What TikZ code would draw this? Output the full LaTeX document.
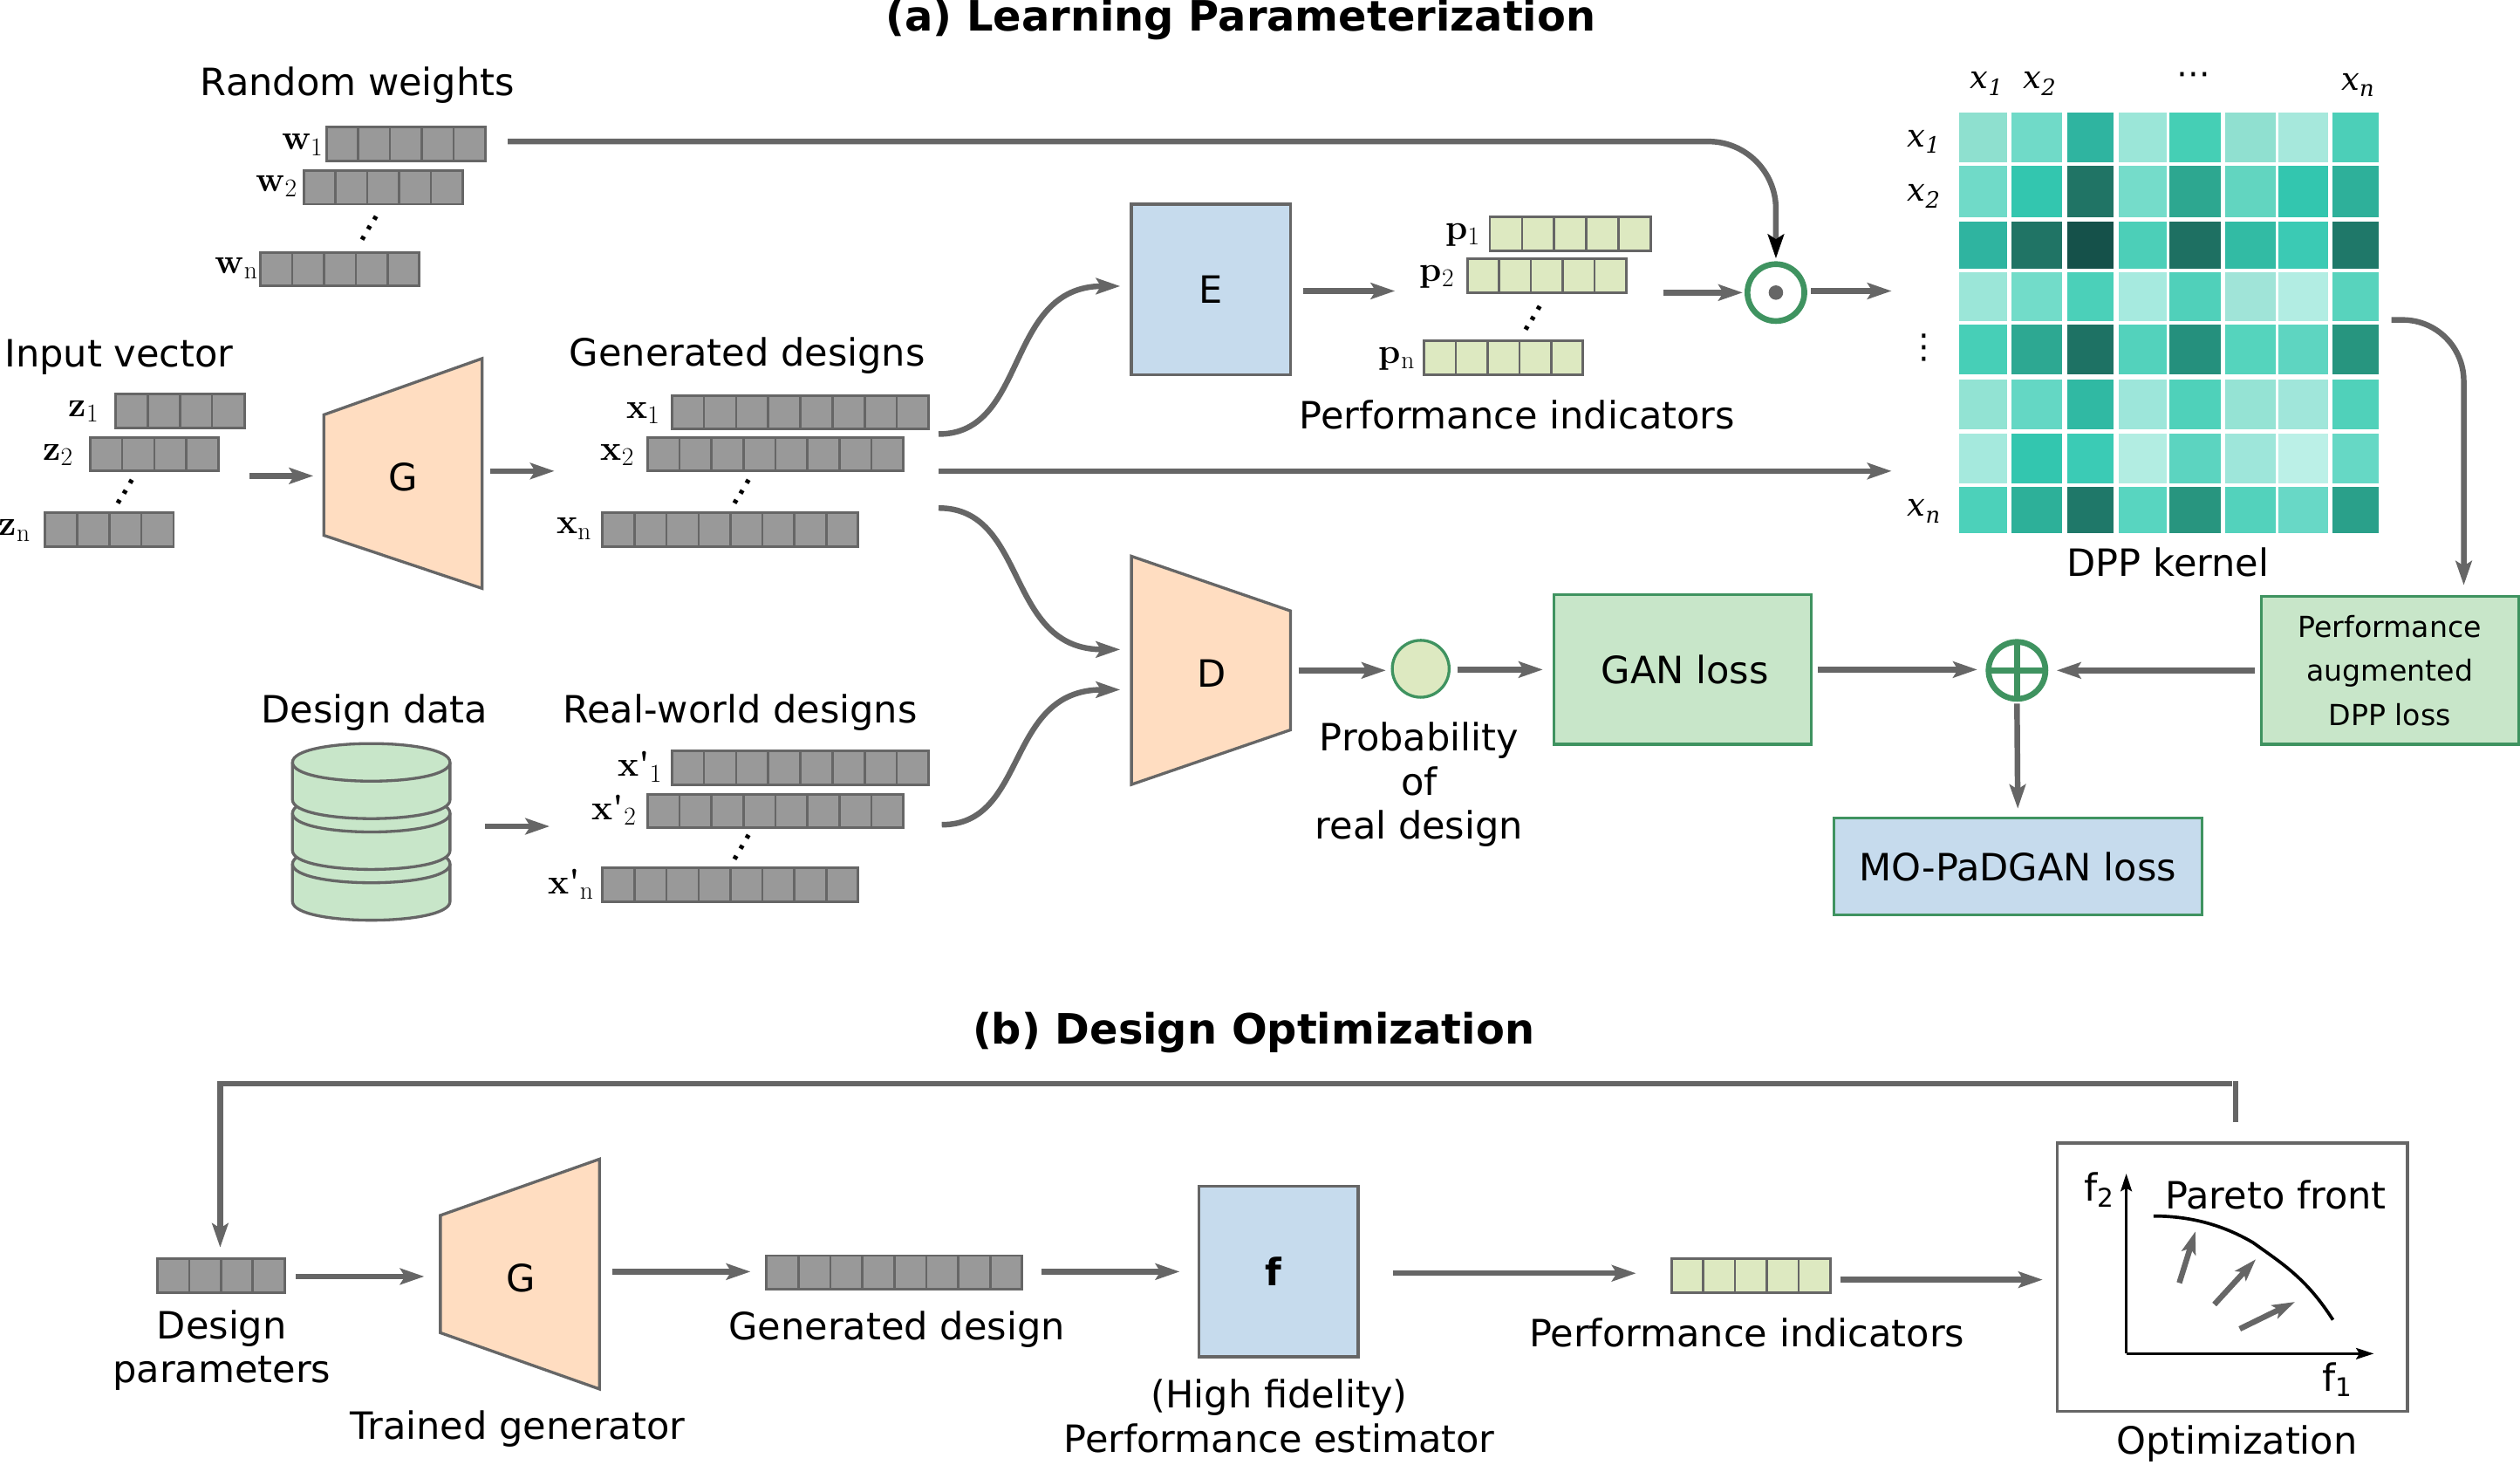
\documentclass[tikz,border=0pt]{standalone}
\usepackage{fontspec}
\usetikzlibrary{arrows.meta,calc}
\newfontfamily\djs{DejaVu Sans}
\newfontfamily\djser{DejaVu Serif}
\newfontfamily\lmr{Latin Modern Roman}
\definecolor{lnk}{HTML}{666666}
\definecolor{grn}{HTML}{3F9360}
\definecolor{peach}{HTML}{FFDDC1}
\definecolor{blu}{HTML}{C6DBED}
\definecolor{pgrn}{HTML}{DDE9C1}
\definecolor{lgrn}{HTML}{C8E6C9}
\definecolor{vgray}{HTML}{999999}
\newcommand{\fz}[1]{\fontsize{#1}{#1}\selectfont}
\newcommand{\blab}[2]{{\lmr\bfseries\fz{22}#1}\raisebox{-3.5pt}{\lmr\fz{16}#2}}
\newcommand{\plab}[2]{{\lmr\bfseries\fz{22}#1'}\raisebox{-3.5pt}{\lmr\fz{16}#2}}
\newcommand{\klab}[2]{{\djser\itshape\fz{20}#1}\raisebox{-4pt}{\djser\itshape\fz{14}#2}}
\newcommand{\flab}[1]{{\djs\fz{23.4}f}\raisebox{-3.5pt}{\djs\fz{16}#1}}
% name, x, y, width, cells, fill
\newcommand{\vecbar}[6]{%
  \node[vbox,fill=#6,minimum width=#4pt,anchor=north west] (#1) at (#2,#3) {};
  \pgfmathtruncatemacro{\last}{#5-1}
  \foreach \i in {1,...,\last} {\draw[lnk,line width=1.4pt] ({#2+\i*#4/#5},#3) -- ++(0,21);}
}
\tikzset{
  arr/.style={draw=lnk,line width=3.5pt,-{Stealth[length=15pt,width=10pt,inset=3pt]}},
  vbox/.style={draw=lnk,line width=1.6pt,minimum height=21pt,inner sep=0pt,outer sep=0pt},
  txt/.style={font=\djs\fontsize{23.4}{27.5}\selectfont,align=center,inner sep=0pt},
  ttl/.style={font=\djs\bfseries\fontsize{26}{30}\selectfont,inner sep=0pt},
  lab/.style={inner sep=0pt},
  dts/.style={font=\djs\fontsize{21}{21}\selectfont,inner sep=0pt},
  sdts/.style={font=\djs\fontsize{23.4}{23.4}\selectfont,inner sep=0pt,rotate=60},
  pshape/.style={draw=lnk,line width=1.8pt,fill=peach},
  bbx/.style={inner sep=0pt,outer sep=0pt},
  fbox/.style={line width=1.8pt,inner sep=0pt,outer sep=0pt,align=center,font=\djs\fontsize{23.4}{27}\selectfont},
  cyl/.style={draw=lnk,line width=1.8pt,fill=lgrn},
  opc/.style={circle,draw=grn,line width=3.6pt,minimum size=35.4pt,inner sep=0pt,outer sep=0pt},
  axs/.style={draw=black,line width=1.6pt,-{Stealth[length=11pt,width=7pt,inset=2pt]}},
}
\begin{document}
\begin{tikzpicture}[x=1pt,y=-1pt]
\useasboundingbox (0,0) rectangle (1568,910.73);
% titles
\node[ttl] (ta) at (772,12) {(a) Learning Parameterization};
\node[ttl] (tb) at (780,642.5) {(b) Design Optimization};
% random weights
\node[txt] (lrw) at (222.5,53) {Random weights};
\vecbar{w1}{203}{79}{99}{5}{vgray}
\vecbar{w2}{189}{106}{99}{5}{vgray}
\vecbar{wn}{162}{157}{99}{5}{vgray}
\node[lab] (lw1) at (188,90) {\blab{w}{1}};
\node[lab] (lw2) at (172,116) {\blab{w}{2}};
\node[lab] (lwn) at (147,167) {\blab{w}{n}};
\node[sdts] (dw) at (230,142) {...};
% input vector
\node[txt] (liv) at (74,222) {Input vector};
\vecbar{z1}{72}{245}{80}{4}{vgray}
\vecbar{z2}{56}{272}{80}{4}{vgray}
\vecbar{zn}{28}{319}{80}{4}{vgray}
\node[lab] (lz1) at (52,256) {\blab{z}{1}};
\node[lab] (lz2) at (36,283) {\blab{z}{2}};
\node[lab] (lzn) at (9,330) {\blab{z}{n}};
\node[sdts] (dz) at (78,306) {...};
% G
\path[pshape] (201.5,258) -- (300,223) -- (300,366) -- (201.5,333) -- cycle;
\node[bbx,minimum width=98.5pt,minimum height=143pt] (G) at (250.7,294.5) {};
\node[txt] (lG) at (251,297) {G};
% generated
\node[txt] (lgd) at (465,221) {Generated designs};
\vecbar{x1}{418}{246}{160}{8}{vgray}
\vecbar{x2}{403}{272}{159}{8}{vgray}
\vecbar{xn}{375}{319}{159}{8}{vgray}
\node[lab] (lx1) at (400,257) {\blab{x}{1}};
\node[lab] (lx2) at (384,283) {\blab{x}{2}};
\node[lab] (lxn) at (357,329) {\blab{x}{n}};
\node[sdts] (dx) at (461.7,306) {...};
% E
\node[fbox,draw=lnk,fill=blu,minimum width=99pt,minimum height=106pt,anchor=north west] (E) at (704,127) {E};
% p
\vecbar{p1}{927}{135}{100}{5}{pgrn}
\vecbar{p2}{913}{161}{99}{5}{pgrn}
\vecbar{pn}{886}{212}{99}{5}{pgrn}
\node[lab] (lp1) at (910,146) {\blab{p}{1}};
\node[lab] (lp2) at (894,172) {\blab{p}{2}};
\node[lab] (lpn) at (869,223) {\blab{p}{n}};
\node[sdts] (dp) at (954,198) {...};
\node[txt] (lpi) at (944,258) {Performance indicators};
% dot op
\node[opc] (dotop) at (1105,182) {};
\fill[lnk] (dotop.center) circle (4.5);
% kernel
\foreach \ya/\yb/\cs in {
 70.1/100.7/{8EE0CF,70DAC8,2FB4A0,9BE6D8,45CFB5,90E0D0,A6E8DC,4CCFB8},
 103.1/135/{70DAC8,33C6AF,207465,75DCCA,2DA790,62D5C0,33C6AF,2EB09A},
 137.9/167.1/{2FB4A0,207465,15514A,4CCFB8,1E7062,32BBA4,3BCAB4,1F7869},
 169.6/199.9/{9BE6D8,72DCC9,4BD0B9,A6EADF,50D0BA,A0E4D8,B2EDE3,58D3BD},
 202.1/233.1/{47CFB7,2DA892,1E7264,53D2BC,25907D,55D4BD,5ED5C1,27957F},
 236.2/267.2/{92E3D3,64D7C4,30B9A3,9DE6DA,4FD1BA,95E3D4,A0E6DA,50D1BA},
 269.9/300.5/{A5E9DD,33C6AF,3BCBB5,B2EDE2,5CD4C0,9EE6DA,BBF0E7,66D8C5},
 303.1/331.7/{4CD1BA,2DB099,1F7869,58D5C0,28957F,53D2BC,68D8C6,2AA08A}} {
  \foreach \c [count=\i from 0] in \cs {
    \pgfmathsetmacro{\xa}{{1219.1,1251.3,1286.1,1318.1,1350,1384.6,1417.6,1451.4}[\i]}
    \pgfmathsetmacro{\xb}{{1249,1283.3,1315.3,1348,1381.8,1415.8,1448.8,1480}[\i]}
    \definecolor{cellc}{HTML}{\c}
    \fill[cellc] (\xa,\ya) rectangle (\xb,\yb);
  }
}
\node[bbx,minimum width=261pt,minimum height=262pt] (K) at (1349.5,201) {};
\node[lab] (kt1) at (1236,52) {\klab{x}{1}};
\node[lab] (kt2) at (1269,52) {\klab{x}{2}};
\node[dts] (ktd) at (1365,49) {⋯};
\node[lab] (ktn) at (1467,53) {\klab{x}{n}};
\node[lab] (kl1) at (1197,88) {\klab{x}{1}};
\node[lab] (kl2) at (1197,122) {\klab{x}{2}};
\node[dts] (kld) at (1197,216) {⋮};
\node[lab] (kln) at (1197,318) {\klab{x}{n}};
\node[txt] (lk) at (1349,350) {DPP kernel};
% D
\path[pshape] (704,346) -- (803,380) -- (803,454) -- (704,488) -- cycle;
\node[bbx,minimum width=99pt,minimum height=142pt] (D) at (753.5,417) {};
\node[txt] (lD) at (754,419) {D};
% probability
\node[opc,fill=pgrn,line width=1.8pt] (pc) at (884,416) {};
\node[txt] (lprob) at (883,488) {Probability\\of\\real design};
% GAN
\node[fbox,draw=grn,fill=lgrn,minimum width=160pt,minimum height=93pt,anchor=north west] (gan) at (967,370) {\hspace*{3pt}GAN loss};
\node[opc] (plus) at (1255,417) {};
\draw[grn,line width=3.6pt] (plus.north) -- (plus.south) (plus.west) -- (plus.east);
\node[fbox,draw=grn,fill=lgrn,minimum width=160pt,minimum height=92pt,anchor=north west,font=\djs\fontsize{18}{27.5}\selectfont] (padl) at (1407,371) {Performance\\augmented\\DPP loss};
\node[fbox,draw=grn,fill=blu,minimum width=229pt,minimum height=60pt,anchor=north west] (mo) at (1141,509) {MO-PaDGAN loss};
% design data
\node[txt] (ldd) at (233,443) {Design data};
\foreach \t in {537.4,505.8,474.2} {
  \path[cyl] (182,\t) -- (182,\t+23.3) .. controls (182,\t+38.9) and (280,\t+38.9) .. (280,\t+23.3) -- (280,\t) .. controls (280,\t-15.6) and (182,\t-15.6) .. (182,\t) -- cycle;
  \draw[lnk,line width=1.8pt] (182,\t) .. controls (182,\t+15.6) and (280,\t+15.6) .. (280,\t);
}
\node[bbx,minimum width=98pt,minimum height=109pt] (db) at (231,518) {};
% real world
\node[txt] (lrd) at (460.5,443) {Real-world designs};
\vecbar{r1}{418}{467}{160}{8}{vgray}
\vecbar{r2}{403}{494}{159}{8}{vgray}
\vecbar{rn}{375}{540}{159}{8}{vgray}
\node[lab] (lr1) at (398,477) {\plab{x}{1}};
\node[lab] (lr2) at (382,504) {\plab{x}{2}};
\node[lab] (lrn) at (355,550) {\plab{x}{n}};
\node[sdts] (dr) at (461.7,527) {...};
% connector free ends
\coordinate (wout) at (316,88);
\coordinate (zout) at (155,296);
\coordinate (gout) at (305,293);
\coordinate (gin) at (345,293);
\coordinate (x1o) at (584,270);
\coordinate (Ein) at (697,178);
\coordinate (Eo) at (811,181);
\coordinate (pin) at (868,181);
\coordinate (po) at (1035,182);
\coordinate (ko) at (1127,181);
\coordinate (ki) at (1177,181);
\coordinate (x2o) at (584,293);
\coordinate (ki2) at (1177,293);
\coordinate (x3o) at (584,316);
\coordinate (Di1) at (697,404);
\coordinate (ro) at (586,513);
\coordinate (Di2) at (697,429);
\coordinate (Kout) at (1488,199);
\coordinate (pdin) at (1533,364);
\coordinate (dbo) at (302,514);
\coordinate (dbi) at (342,514);
% connectors
\draw[draw=lnk,line width=3.5pt,rounded corners=42pt,-{Stealth[length=15pt,width=10pt,inset=3pt,color=black,fill=black]}] (wout) -| ([yshift=3.5pt]dotop.north);
\draw[arr] (zout) -- (zout -| 195,0);
\draw[arr] (gout) -- (gin);
\draw[arr] (x1o) .. controls (640,270) and (625,178) .. (Ein);
\draw[arr] (Eo) -- (pin);
\draw[arr] (po) -- ([xshift=-3pt]dotop.west);
\draw[arr] (ko) -- (ki);
\draw[arr] (x2o) -- (ki2);
\draw[arr] (x3o) .. controls (640,316) and (625,404) .. (Di1);
\draw[arr] (ro) .. controls (640,513) and (625,429) .. (Di2);
\draw[arr] (dbo) -- (dbi);
\draw[arr] ([xshift=5pt]D.east) -- ([xshift=-4pt]pc.west |- D.east);
\draw[arr] ([xshift=5pt]pc.east |- gan.west) -- ([xshift=-7pt]gan.west);
\draw[arr] ([xshift=4pt]gan.east) -- ([xshift=-7pt]plus.west |- gan.east);
\draw[arr] ([xshift=-4pt]padl.west |- plus.east) -- ([xshift=7pt]plus.east);
\draw[arr] ([yshift=-3pt]plus.south) -- ([yshift=6pt]mo.north);
\draw[arr,rounded corners=38pt] (Kout) -| (pdin);
% bottom panel
\vecbar{dvec}{98}{783}{79}{4}{vgray}
\node[txt] (ldp) at (138,840) {Design\\parameters};
\path[pshape] (274,756) -- (373,721) -- (373,864) -- (274,829) -- cycle;
\node[bbx,minimum width=99pt,minimum height=143pt] (G2) at (323.5,792.5) {};
\node[txt] (lG2) at (324,795) {G};
\node[txt] (ltg) at (322,889) {Trained generator};
\vecbar{gv}{477}{781}{159}{8}{vgray}
\node[txt] (lgv) at (558,827) {Generated design};
\node[fbox,draw=lnk,fill=blu,minimum width=99pt,minimum height=106pt,anchor=north west,font=\djs\bfseries\fontsize{23.4}{27}\selectfont] (f) at (746,738) {\hspace*{-6pt}f};
\node[txt] (lf) at (796,881) {(High fidelity)\\Performance estimator};
\vecbar{pv}{1040}{783}{99}{5}{pgrn}
\node[txt] (lpv) at (1087,829) {Performance indicators};
\node[fbox,draw=lnk,minimum width=218pt,minimum height=167pt,anchor=north west] (opt) at (1280,711) {};
\node[txt] (lopt) at (1392,898) {Optimization};
\coordinate (ori) at (1323,842);
\coordinate (ay) at (1323,730);
\coordinate (ax) at (1477,842);
\draw[axs] (ori) -- (ay);
\draw[axs] (ori) -- (ax);
\node[lab] (lf2) at (1306,740) {\flab{2}};
\node[lab] (lf1) at (1454,858) {\flab{1}};
\node[txt] (lpf) at (1416,743) {Pareto front};
\draw[black,line width=2pt] (1340,756.4) .. controls (1365,756.4) and (1385,763) .. (1402,773) .. controls (1420,786) and (1435,795) .. (1451.6,821);
\tikzset{sarr/.style={draw=lnk,line width=3.5pt,-{Stealth[length=14pt,width=9pt,inset=3pt]}}}
\coordinate (a1s) at (1356,798); \coordinate (a1e) at (1366,766);
\coordinate (a2s) at (1377.8,811.4); \coordinate (a2e) at (1403.6,783.3);
\coordinate (a3s) at (1393.6,826.6); \coordinate (a3e) at (1427.9,809.8);
\draw[sarr] (a1s) -- (a1e);
\draw[sarr] (a2s) -- (a2e);
\draw[sarr] (a3s) -- (a3e);
% bottom connectors
\coordinate (fb1) at (1391,698);
\coordinate (fb2) at (1391,672.3);
\coordinate (fb3) at (1389,674);
\coordinate (fb4) at (137,674);
\draw[lnk,line width=3pt] (fb1) -- (fb2);
\draw[arr] (fb3) -- (fb4) -- ([yshift=7pt]dvec.north -| fb4);
\coordinate (b1) at (184,794);
\coordinate (b2) at (264,794);
\draw[arr] (b1) -- (b2);
\coordinate (b3) at (381,791);
\coordinate (b4) at (467,791);
\draw[arr] (b3) -- (b4);
\coordinate (b5) at (648,791);
\coordinate (b6) at (734,791);
\draw[arr] (b5) -- (b6);
\coordinate (b7) at (867,792);
\coordinate (b8) at (1018,792);
\draw[arr] (b7) -- (b8);
\coordinate (b9) at (1145,796);
\coordinate (b10) at (1271,796);
\draw[arr] (b9) -- (b10);
\end{tikzpicture}
\end{document}
